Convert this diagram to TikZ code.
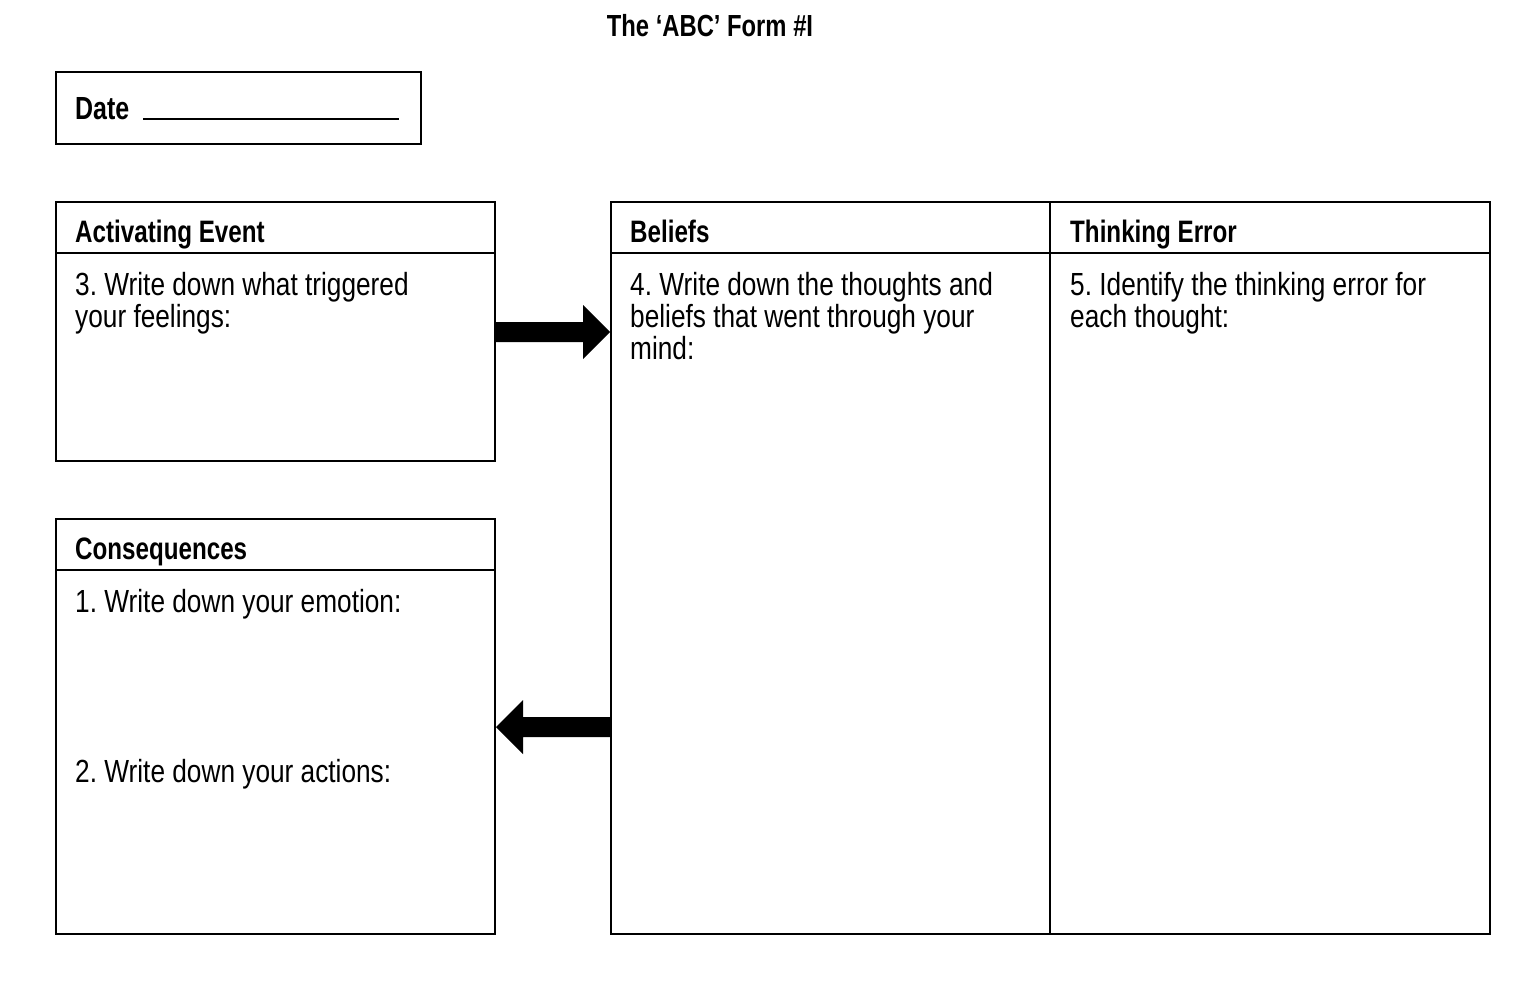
\documentclass[tikz,border=0pt]{standalone}
\usepackage{fontspec}
\setmainfont{Liberation Sans}[FakeStretch=0.82,BoldFeatures={FakeStretch=0.78}]
\frenchspacing
\begin{document}
\begin{tikzpicture}[x=1pt,y=-1pt,
  box/.style={draw=black,line width=1.3pt},
  hdr/.style={anchor=base west,inner sep=0pt,font=\fontsize{31}{32}\selectfont\bfseries},
  body/.style={anchor=base west,inner sep=0pt,align=left,font=\fontsize{32}{32}\selectfont},
  fatarrow/.style={fill=black,draw=none}]
\useasboundingbox (0,0) rectangle (1520,982);
% title
\node[anchor=base,inner sep=0pt,font=\fontsize{30.5}{32}\selectfont\bfseries] (title) at (710,37) {The ‘ABC’ Form \#I};
% date box
\draw[box] (56,72) rectangle (421,144);
\node[anchor=base west,inner sep=0pt,font=\fontsize{32}{32}\selectfont\bfseries] (date) at (75,119) {Date};
\coordinate (dl1) at (143,119);
\coordinate (dl2) at (399,119);
\draw[line width=1.3pt] (dl1) -- (dl2);
% activating event
\draw[box] (56,202) rectangle (495,461);
\coordinate (ae1) at (56,253); \coordinate (ae2) at (495,253);
\draw[box] (ae1) -- (ae2);
\node[hdr] (aeh) at (75,242) {Activating Event};
\node[body] (aeb) at (75,327) {3. Write down what triggered\\your feelings:};
% consequences
\draw[box] (56,519) rectangle (495,934);
\coordinate (c1) at (56,570); \coordinate (c2) at (495,570);
\draw[box] (c1) -- (c2);
\node[hdr] (ch) at (75,559) {Consequences};
\node[body] (cb1) at (75,612) {1. Write down your emotion:};
\node[body] (cb2) at (75,782) {2. Write down your actions:};
% beliefs and thinking error
\draw[box] (611,202) rectangle (1490,934);
\coordinate (d1) at (1050,202); \coordinate (d2) at (1050,934);
\draw[box] (d1) -- (d2);
\coordinate (b1) at (611,253); \coordinate (b2) at (1490,253);
\draw[box] (b1) -- (b2);
\node[hdr] (bh) at (630,242) {Beliefs};
\node[body] (bb) at (630,359) {4. Write down the thoughts and\\beliefs that went through your\\mind:};
\node[hdr] (th) at (1070,242) {Thinking Error};
\node[body] (tb) at (1070,327) {5. Identify the thinking error for\\each thought:};
% arrows
\fill[fatarrow] (496,322) -- (583,322) -- (583,305) -- (610,332) -- (583,359) -- (583,342) -- (496,342) -- cycle;
\fill[fatarrow] (610,717) -- (523,717) -- (523,700) -- (496,727) -- (523,754) -- (523,737) -- (610,737) -- cycle;
\end{tikzpicture}
\end{document}
